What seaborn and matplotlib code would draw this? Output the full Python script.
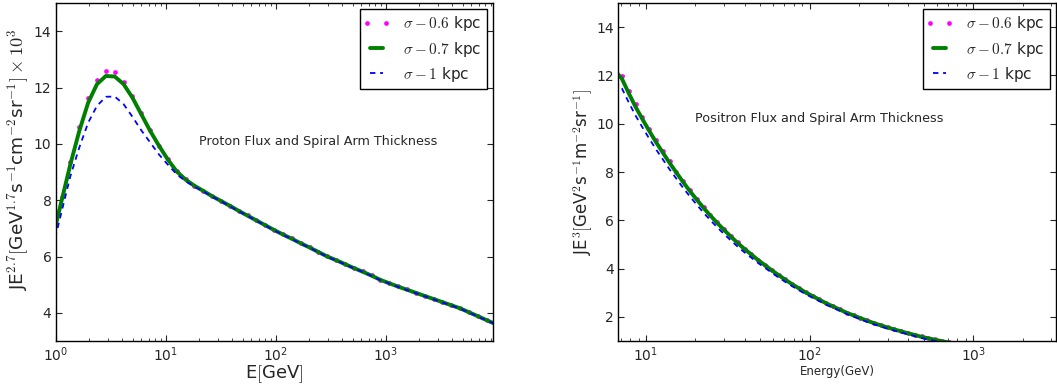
import numpy as np
import pandas as pd
import matplotlib
matplotlib.use("Agg")
import matplotlib.pyplot as plt
import seaborn as sns
from matplotlib.ticker import LogLocator, FixedLocator
from matplotlib.legend_handler import HandlerLine2D

# ---------------- data: proton panel ----------------
proton_E = [0.94, 1.131, 1.361, 1.639, 1.972, 2.374, 2.858, 3.440, 4.140, 4.983,
            5.998, 7.220, 8.690, 10.46, 12.59, 15.16, 18.24, 21.96, 26.42, 31.81,
            38.28, 46.08, 55.46, 66.76, 80.35, 96.72, 116.4, 140.1, 168.7, 203.0,
            244.3, 294.1, 354.0, 426.1, 512.9, 617.3, 743.0, 894.4, 1076, 1296,
            1560, 1877, 2259, 2720, 3273, 3940, 4742, 5709, 6871, 8271, 9954]
proton_s06 = [6.80, 8.10, 9.37, 10.58, 11.61, 12.28, 12.60, 12.54, 12.21, 11.69,
              11.10, 10.49, 9.94, 9.45, 9.02, 8.74, 8.52, 8.34, 8.15, 7.98,
              7.81, 7.63, 7.46, 7.29, 7.12, 6.95, 6.79, 6.64, 6.48, 6.33,
              6.17, 6.01, 5.88, 5.74, 5.60, 5.47, 5.33, 5.18, 5.06, 4.94,
              4.83, 4.72, 4.61, 4.50, 4.39, 4.28, 4.17, 4.03, 3.89, 3.75, 3.61]
proton_s07 = [6.66, 7.98, 9.28, 10.46, 11.46, 12.12, 12.41, 12.39, 12.12, 11.64,
              11.05, 10.46, 9.93, 9.44, 9.02, 8.73, 8.51, 8.33, 8.14, 7.97,
              7.80, 7.62, 7.45, 7.28, 7.11, 6.94, 6.78, 6.63, 6.47, 6.32,
              6.16, 6.00, 5.87, 5.73, 5.59, 5.46, 5.32, 5.17, 5.05, 4.93,
              4.82, 4.71, 4.60, 4.49, 4.38, 4.27, 4.16, 4.02, 3.88, 3.74, 3.60]
proton_s10 = [6.31, 7.59, 8.86, 9.87, 10.75, 11.35, 11.67, 11.68, 11.41, 10.96,
              10.48, 10.05, 9.62, 9.26, 8.92, 8.67, 8.48, 8.31, 8.13, 7.96,
              7.79, 7.61, 7.44, 7.27, 7.10, 6.93, 6.77, 6.62, 6.46, 6.31,
              6.15, 5.99, 5.86, 5.72, 5.58, 5.45, 5.31, 5.16, 5.04, 4.92,
              4.81, 4.70, 4.59, 4.48, 4.37, 4.26, 4.15, 4.01, 3.87, 3.73, 3.59]

# ---------------- data: positron panel ----------------
positron_E = [6.47, 7.13, 7.85, 8.63, 9.51, 10.45, 11.51, 12.68, 13.93, 15.35,
              16.87, 18.58, 20.46, 22.49, 24.77, 27.23, 29.99, 33.04, 36.31, 39.99,
              44.06, 48.42, 53.33, 58.61, 64.57, 70.96, 78.16, 86.10, 94.62, 104.2,
              114.8, 126.2, 139.0, 152.8, 168.3, 185.4, 203.7, 224.4, 247.2, 271.6,
              299.2, 328.9, 362.2, 398.9, 438.5, 483.1, 532.1, 584.8, 644.2, 707.9,
              779.8]
positron_s06 = [12.62, 11.98, 11.37, 10.81, 10.29, 9.80, 9.32, 8.87, 8.44, 8.02,
                7.62, 7.24, 6.88, 6.54, 6.22, 5.91, 5.62, 5.34, 5.08, 4.83,
                4.59, 4.37, 4.16, 3.94, 3.74, 3.55, 3.36, 3.19, 3.02, 2.87,
                2.72, 2.57, 2.44, 2.31, 2.18, 2.07, 1.96, 1.85, 1.75, 1.66,
                1.57, 1.49, 1.41, 1.33, 1.26, 1.19, 1.13, 1.07, 1.01, 0.96,
                0.91]
positron_s07 = [12.20, 11.86, 11.26, 10.70, 10.19, 9.71, 9.24, 8.80, 8.38, 7.97,
                7.58, 7.20, 6.85, 6.51, 6.19, 5.89, 5.60, 5.32, 5.06, 4.81,
                4.58, 4.35, 4.14, 3.93, 3.73, 3.54, 3.35, 3.18, 3.01, 2.86,
                2.71, 2.56, 2.43, 2.30, 2.17, 2.06, 1.95, 1.84, 1.74, 1.65,
                1.56, 1.48, 1.40, 1.32, 1.25, 1.17, 1.11, 1.05, 0.99, 0.94,
                0.89]
positron_s10 = [11.78, 11.46, 10.88, 10.34, 9.85, 9.39, 8.94, 8.52, 8.11, 7.72,
                7.34, 6.98, 6.64, 6.31, 6.00, 5.71, 5.43, 5.16, 4.91, 4.67,
                4.45, 4.23, 4.03, 3.83, 3.63, 3.45, 3.27, 3.10, 2.94, 2.79,
                2.65, 2.50, 2.37, 2.25, 2.12, 2.01, 1.90, 1.79, 1.69, 1.60,
                1.51, 1.43, 1.35, 1.27, 1.20, 1.12, 1.06, 1.00, 0.94, 0.89,
                0.84]

labels = [r"$\sigma-0.6$ kpc", r"$\sigma-0.7$ kpc", r"$\sigma-1$ kpc"]
yticks_vals = [2, 4, 6, 8, 10, 12, 14]

# ---------------- style ----------------
sns.set_style("ticks")
plt.rcParams["font.family"] = ["DejaVu Sans"]
plt.rcParams["mathtext.fontset"] = "cm"
plt.rcParams["xtick.direction"] = "in"
plt.rcParams["ytick.direction"] = "in"
plt.rcParams["xtick.top"] = True
plt.rcParams["ytick.right"] = True
plt.rcParams["axes.edgecolor"] = "black"
plt.rcParams["axes.linewidth"] = 1.0

fig = plt.figure(figsize=(10.57, 3.88), dpi=100)
axL = fig.add_axes([55.7 / 1057, 1 - 341 / 388, (493 - 55.7) / 1057, 338 / 388])
axR = fig.add_axes([618 / 1057, 1 - 341 / 388, (1056 - 618) / 1057, 338 / 388])


def draw(ax, E, s06, s07, s10):
    df = pd.DataFrame({"E": E, "s06": s06, "s07": s07, "s10": s10})
    sns.lineplot(data=df, x="E", y="s06", ax=ax, color="#ff00ff", linestyle="",
                 marker="o", markersize=3.4, markeredgewidth=0, label=labels[0])
    sns.lineplot(data=df, x="E", y="s07", ax=ax, color="#008000", linewidth=2.8,
                 label=labels[1])
    sns.lineplot(data=df, x="E", y="s10", ax=ax, color="#0000ff", linewidth=1.3,
                 linestyle=(0, (3, 2.6)), label=labels[2])
    ax.set_xscale("log")
    ax.xaxis.set_major_locator(LogLocator(base=10, numticks=10))
    ax.xaxis.set_minor_locator(LogLocator(base=10, subs=np.arange(2, 10), numticks=20))
    ax.yaxis.set_major_locator(FixedLocator(yticks_vals))
    ax.tick_params(which="major", length=4, width=0.8, labelsize=10, pad=3,
                   top=True, right=True, direction="in")
    ax.tick_params(which="minor", length=2, width=0.6, top=True, direction="in")
    dot_line = ax.get_lines()[0]
    leg = ax.legend(loc="upper right", numpoints=2, fontsize=11, handlelength=1.5,
                    frameon=True, fancybox=False, framealpha=1, edgecolor="black",
                    borderaxespad=0.4, labelspacing=0.4, handletextpad=1.0,
                    borderpad=0.35,
                    handler_map={dot_line: HandlerLine2D(marker_pad=0.1, numpoints=2)})
    leg.get_frame().set_linewidth(1.0)
    for sp in ax.spines.values():
        sp.set_visible(True)
        sp.set_color("black")


draw(axL, proton_E, proton_s06, proton_s07, proton_s10)
axL.set_xlim(1, 9440)
axL.set_ylim(3, 15)
axL.set_xlabel(r"E$[$GeV$]$", fontsize=13, labelpad=0)
axL.set_ylabel(r"JE$^{2.7}[$GeV$^{1.7}$s$^{-1}$cm$^{-2}$sr$^{-1}]\times10^{3}$",
               fontsize=13.3)
axL.yaxis.set_label_coords(-0.058, 0.537)
axL.text(20, 10.1, "Proton Flux and Spiral Arm Thickness", fontsize=9.2,
         ha="left", va="center")

draw(axR, positron_E, positron_s06, positron_s07, positron_s10)
axR.set_xlim(6.745, 3200)
axR.set_ylim(1, 15)
axR.set_xlabel("Energy(GeV)", fontsize=8.5, labelpad=1)
axR.set_ylabel(r"JE$^{3}[$GeV$^{2}$s$^{-1}$m$^{-2}$sr$^{-1}]$", fontsize=12)
axR.yaxis.set_label_coords(-0.052, 0.5)
axR.text(20, 10.2, "Positron Flux and Spiral Arm Thickness", fontsize=9.2,
         ha="left", va="center")

fig.savefig("out.png", dpi=100, facecolor="white")
